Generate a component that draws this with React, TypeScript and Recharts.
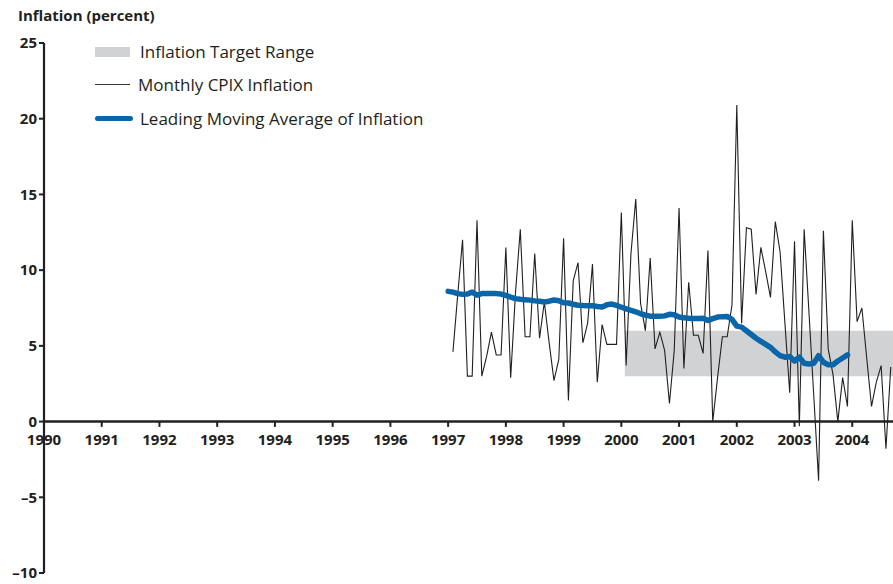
import {
  Line,
  LineChart,
  ReferenceArea,
  ReferenceDot,
  ReferenceLine,
  XAxis,
  YAxis,
} from "recharts";

// Monthly CPIX inflation, Feb 1997 .. Sep 2004 (percent, annualised)
const CPIX_START = { year: 1997, month: 2 };
const cpixMonthly = [
  4.6, 8.4, 12.0, 3.0, 3.0, 13.3, 3.0, 4.3, 5.9, 4.4, 4.4,
  11.5, 2.9, 8.5, 12.7, 5.6, 5.6, 11.1, 5.5, 7.9, 5.2, 2.7, 4.1,
  12.1, 1.4, 9.3, 10.5, 5.2, 6.5, 10.4, 2.6, 6.4, 5.1, 5.1, 5.1,
  13.8, 3.7, 11.1, 14.7, 7.8, 6.0, 10.8, 4.8, 5.9, 4.7, 1.2, 4.7,
  14.1, 3.5, 9.2, 5.7, 5.7, 4.5, 11.3, 0.0, 2.9, 5.6, 5.6, 7.7,
  20.9, 6.5, 12.8, 12.7, 8.4, 11.5, 9.9, 8.2, 13.2, 11.2, 6.5, 1.9,
  11.9, -0.3, 12.7, 7.2, 1.7, -3.9, 12.6, 4.8, 3.1, 0.0, 2.9, 1.0,
  13.3, 6.6, 7.5, 4.2, 1.0, 2.6, 3.7, -1.8, 3.6,
];

// Leading moving average, Jan 1997 .. Dec 2003
const MA_START = { year: 1997, month: 1 };
const leadingMA = [
  8.6, 8.55, 8.45, 8.4, 8.42, 8.55, 8.35, 8.45, 8.45, 8.45, 8.45, 8.42,
  8.33, 8.22, 8.12, 8.08, 8.05, 8.02, 7.97, 7.94, 7.9, 7.95, 8.03, 7.98,
  7.85, 7.83, 7.75, 7.68, 7.66, 7.65, 7.65, 7.6, 7.56, 7.72, 7.76, 7.67,
  7.55, 7.45, 7.35, 7.25, 7.12, 7.03, 6.96, 6.96, 6.96, 6.98, 7.08, 7.05,
  6.9, 6.85, 6.82, 6.8, 6.8, 6.83, 6.68, 6.8, 6.9, 6.93, 6.94, 6.75,
  6.3, 6.24, 6.0, 5.75, 5.5, 5.3, 5.1, 4.9, 4.6, 4.35, 4.25, 4.3,
  4.0, 4.25, 3.85, 3.8, 3.85, 4.35, 3.92, 3.75, 3.75, 4.0, 4.2, 4.4,
];

const TARGET = { low: 3, high: 6, from: 2000.06, to: 2005 };
const YEARS = [1990, 1991, 1992, 1993, 1994, 1995, 1996, 1997, 1998, 1999, 2000, 2001, 2002, 2003, 2004];
const Y_TICKS = [-10, -5, 0, 5, 10, 15, 20, 25];

const INK = "#231f20";
const BLUE = "#0a66a8";
const BAND = "#d1d2d4";
const FONT = "'Open Sans', 'DejaVu Sans', sans-serif";

function monthKey(year: number, month: number) {
  return year * 12 + (month - 1);
}

// merge both series on a monthly time axis (decimal year)
const rows = new Map<number, { t: number; cpix?: number; ma?: number }>();
function put(k: number, field: "cpix" | "ma", v: number) {
  const row = rows.get(k) ?? { t: k / 12 };
  row[field] = v;
  rows.set(k, row);
}
cpixMonthly.forEach((v, i) => put(monthKey(CPIX_START.year, CPIX_START.month) + i, "cpix", v));
leadingMA.forEach((v, i) => put(monthKey(MA_START.year, MA_START.month) + i, "ma", v));
const data = [...rows.values()].sort((a, b) => a.t - b.t);

const fmtY = (v: number) => (v < 0 ? "\u2013" + Math.abs(v) : String(v));

function LegendBox() {
  const txt: React.CSSProperties = { fontFamily: FONT, fontSize: 17, fontWeight: 500, color: INK, whiteSpace: "nowrap" };
  const row: React.CSSProperties = { position: "absolute", left: 95, display: "flex", alignItems: "center" };
  return (
    <>
      <div style={{ ...row, top: 40 }}>
        <span style={{ width: 35, height: 10, background: BAND, marginRight: 10 }} />
        <span style={txt}>Inflation Target Range</span>
      </div>
      <div style={{ ...row, top: 73 }}>
        <span style={{ width: 35, height: 1.3, background: "#3a3a3a", marginRight: 8 }} />
        <span style={txt}>Monthly CPIX Inflation</span>
      </div>
      <div style={{ ...row, top: 107 }}>
        <span style={{ width: 38, height: 5, borderRadius: 3, background: BLUE, marginRight: 7 }} />
        <span style={txt}>Leading Moving Average of Inflation</span>
      </div>
    </>
  );
}

export default function App() {
  return (
    <div
      style={{
        position: "fixed",
        left: 0,
        top: 0,
        width: 893,
        height: 584,
        overflow: "hidden",
        background: "#fff",
      }}
    >
      <div
        style={{
          position: "absolute",
          left: 18,
          top: 5,
          fontFamily: FONT,
          fontSize: 15,
          fontWeight: 700,
          color: INK,
        }}
      >
        Inflation (percent)
      </div>
      <LineChart width={920} height={584} data={data} margin={{ top: 43, right: 10, bottom: 11, left: 0 }}>
        <ReferenceArea
          x1={TARGET.from}
          x2={TARGET.to}
          y1={TARGET.low}
          y2={TARGET.high}
          fill={BAND}
          fillOpacity={1}
          stroke="none"
        />
        <XAxis dataKey="t" type="number" domain={[1990, 2005]} hide />
        <YAxis
          type="number"
          domain={[-10, 25]}
          ticks={Y_TICKS}
          width={44}
          tickFormatter={fmtY}
          axisLine={{ stroke: INK, strokeWidth: 2.2 }}
          tickLine={{ stroke: INK, strokeWidth: 2 }}
          tickSize={5}
          tick={{ fill: INK, fontSize: 15, fontFamily: FONT, fontWeight: 700 }}
        />
        <ReferenceLine y={0} stroke={INK} strokeWidth={2.5} />
        {YEARS.map((yr) => (
          <ReferenceLine
            key={"t" + yr}
            segment={[
              { x: yr, y: 0 },
              { x: yr, y: -0.35 },
            ]}
            stroke={INK}
            strokeWidth={2}
          />
        ))}
        {YEARS.map((yr) => (
          <ReferenceDot
            key={"l" + yr}
            x={yr}
            y={0}
            r={0}
            fill="none"
            stroke="none"
            label={{
              value: String(yr),
              position: "bottom",
              offset: 13,
              fill: INK,
              fontSize: 15,
              fontFamily: FONT,
              fontWeight: 700,
            }}
          />
        ))}
        <Line
          dataKey="cpix"
          type="linear"
          stroke={INK}
          strokeWidth={1.1}
          dot={false}
          isAnimationActive={false}
        />
        <Line
          dataKey="ma"
          type="linear"
          stroke={BLUE}
          strokeWidth={5.5}
          strokeLinecap="round"
          strokeLinejoin="round"
          dot={false}
          isAnimationActive={false}
        />
      </LineChart>
      <LegendBox />
    </div>
  );
}
